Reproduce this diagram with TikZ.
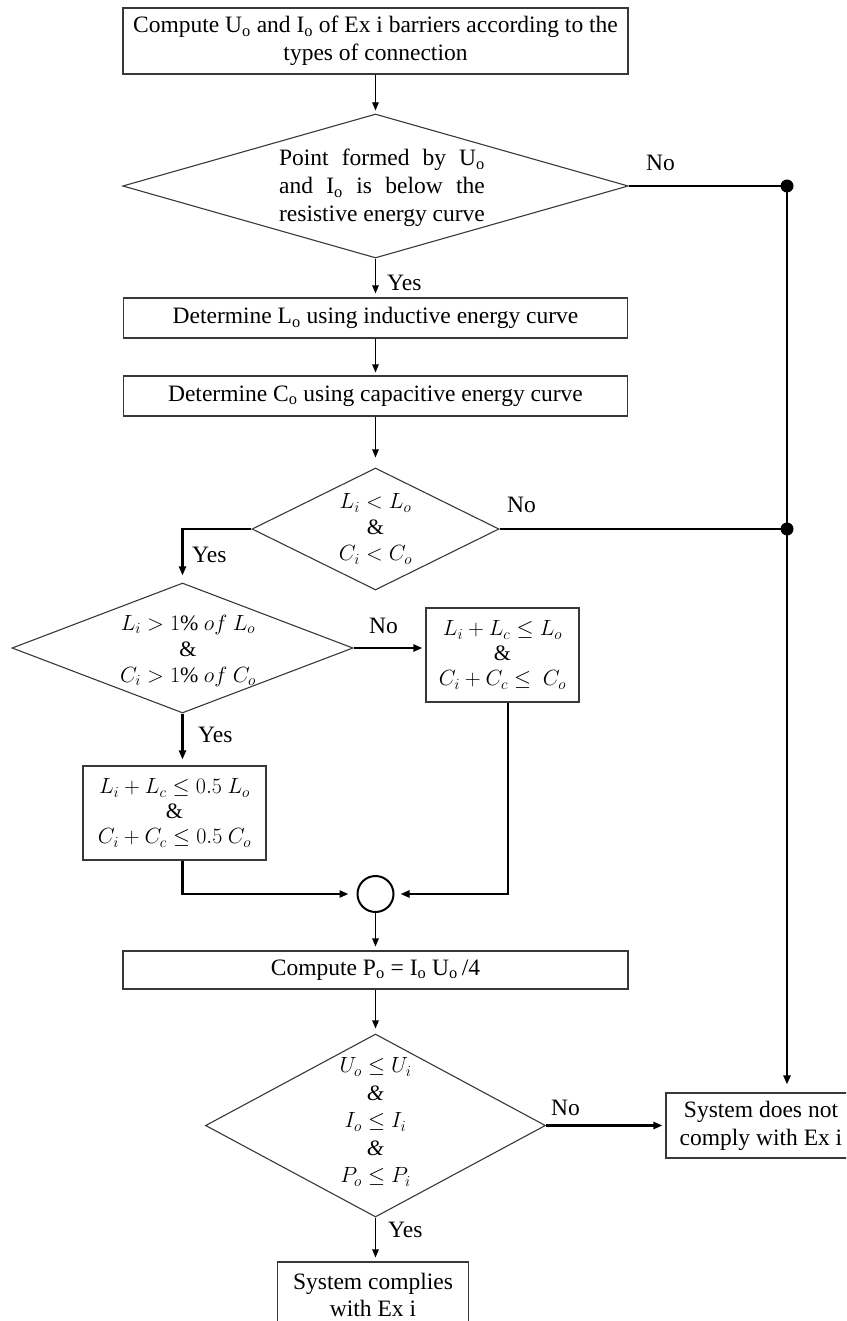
\RequirePackage{fix-cm}
\documentclass[tikz,border=0pt]{standalone}
\usepackage{fontspec}
\setmainfont{Liberation Serif}
\usetikzlibrary{arrows.meta,shapes.geometric,calc}

\newcommand\nf{\fontsize{23.5}{28}\selectfont}
\newcommand\mfa{\fontsize{22}{25}\selectfont}
\newcommand\mfb{\fontsize{22}{26}\selectfont}
\newcommand\mfc{\fontsize{22}{27.5}\selectfont}
\newcommand\so{\textsubscript{o}}
\newlength\rcw

\tikzset{
  box/.style={draw=black!78, line width=1.1pt, inner sep=0pt, align=center, font=\nf},
  dia/.style={draw=black!78, line width=1.1pt, diamond, inner sep=0pt},
  dtext/.style={inner sep=0pt, align=center, font=\nf},
  lab/.style={inner sep=0pt, anchor=west, font=\nf},
  thinarrow/.style={line width=1.1pt, -{Triangle[length=8pt,width=6.5pt]}},
  thickline/.style={line width=2.3pt},
  thickarrow/.style={line width=2.3pt, -{Triangle[length=9pt,width=7pt]}},
  dot/.style={circle, fill=black, inner sep=0pt, minimum size=13pt},
}

\begin{document}
\settowidth{\rcw}{\nf resistive energy curve}%
\begin{tikzpicture}[x=1pt,y=-1pt]
\useasboundingbox (0,0) rectangle (846,1321);
\clip (0,0) rectangle (846,1321);

% process boxes on the main axis (x = 375.5)
\node[box, minimum width=505pt, minimum height=66pt] (top) at (375.5,41)
  {Compute U\so{} and I\so{} of Ex i barriers according to the\\types of connection};
\node[box, minimum width=504pt, minimum height=40pt] (L) at (375.5,318)
  {Determine L\so{} using inductive energy curve};
\node[box, minimum width=504pt, minimum height=40pt] (C) at (375.5,396)
  {Determine C\so{} using capacitive energy curve};
\node[box, font=\mfa, minimum width=153pt, minimum height=94pt] (R) at (502.5,655)
  {$L_i + L_c \le L_o$\\ \&\\ $C_i + C_c \le\ C_o$};
\node[box, font=\mfa, minimum width=183pt, minimum height=94pt] (H) at (174.5,813)
  {$L_i + L_c \le 0.5\ L_o$\\ \&\\ $C_i + C_c \le 0.5\ C_o$};
\node[circle, draw=black, line width=2pt, minimum size=36pt, inner sep=0pt] (jn) at (375.5,894) {};
\node[box, minimum width=505pt, minimum height=38pt] (Po) at (375.5,970)
  {Compute P\so{} = I\so{} U\so{}\,/4};
\node[box, minimum width=190pt, minimum height=65pt] (F) at (761,1125.5)
  {System does not\\comply with Ex i};
\node[box, minimum width=191pt, minimum height=66pt, font=\fontsize{23.5}{27}\selectfont] (S) at (373,1295)
  {System complies\\with Ex i};

% decisions
\node[dia, minimum width=505.6pt, minimum height=144pt] (d1) at (375.5,186) {};
\node[dtext] (d1t) at (382,188)
  {\makebox[\rcw][s]{Point formed by U\so}\\
   \makebox[\rcw][s]{and I\so{} is below the}\\
   resistive energy curve};
\node[dia, minimum width=247pt, minimum height=122pt] (d2) at (375.5,529) {};
\node[dtext, font=\mfb] (d2t) at (375.5,529) {$L_i < L_o$\\ \&\\ $C_i < C_o$};
\node[dia, minimum width=341pt, minimum height=130pt] (d3) at (182.5,648) {};
\node[dtext, font=\mfb] (d3t) at (188,651) {$L_i > 1\%\ of\ L_o$\\ \&\\ $C_i > 1\%\ of\ C_o$};
\node[dia, minimum width=340pt, minimum height=183pt] (d4) at (375.5,1125.5) {};
\node[dtext, font=\mfc] (d4t) at (375.5,1122)
  {$U_o \le U_i$\\ \textit{\&}\\ $I_o \le I_i$\\ \textit{\&}\\ $P_o \le P_i$};

% junction dots on the rejection bus
\node[dot] (j1) at (787,186) {};
\node[dot] (j2) at (787,529) {};

% main flow
\draw[thinarrow, shorten >=3pt] (top.south) -- (d1.north);
\draw[thinarrow, shorten >=4pt] (d1.south) -- (L.north);
\draw[thinarrow, shorten >=3pt] (L.south) -- (C.north);
\draw[thinarrow, shorten >=10pt] (C.south) -- (d2.north);
\draw[thinarrow, shorten >=4pt] (jn.south) -- (Po.north);
\draw[thinarrow, shorten >=5pt] (Po.south) -- (d4.north);
\draw[thinarrow, shorten >=4pt] (d4.south) -- (d4.south |- S.north);

% branches
\draw[thickarrow, shorten >=7pt] (d2.west) -| (d3.north);
\draw[thickarrow, shorten >=3pt] (d3.east) -- (d3.east -| R.west);
\draw[thickarrow, shorten >=6pt] (d3.south) -- (d3.south |- H.north);
\draw[thickarrow, shorten >=8pt] (d3.south |- H.south) |- (jn.west);
\draw[thickarrow, shorten >=6pt] ([xshift=5.5pt]R.south) |- (jn.east);
\draw[thickarrow, shorten >=3pt] (d4.east) -- (F.west);

% rejection bus
\draw[thickline] (d1.east) -- (j1.center);
\draw[thickline] (d2.east) -- (j2.center);
\draw[thickarrow, shorten >=8pt] (j1.center) -- (j1 |- F.north);

% branch labels
\node[lab] (y1) at (387,283) {Yes};
\node[lab] (y2) at (192,555) {Yes};
\node[lab] (y3) at (198,735) {Yes};
\node[lab] (y4) at (388,1230) {Yes};
\node[lab] (n1) at (646,163) {No};
\node[lab] (n2) at (507,505) {No};
\node[lab] (n3) at (369,626) {No};
\node[lab] (n4) at (551,1108) {No};
\end{tikzpicture}
\end{document}
